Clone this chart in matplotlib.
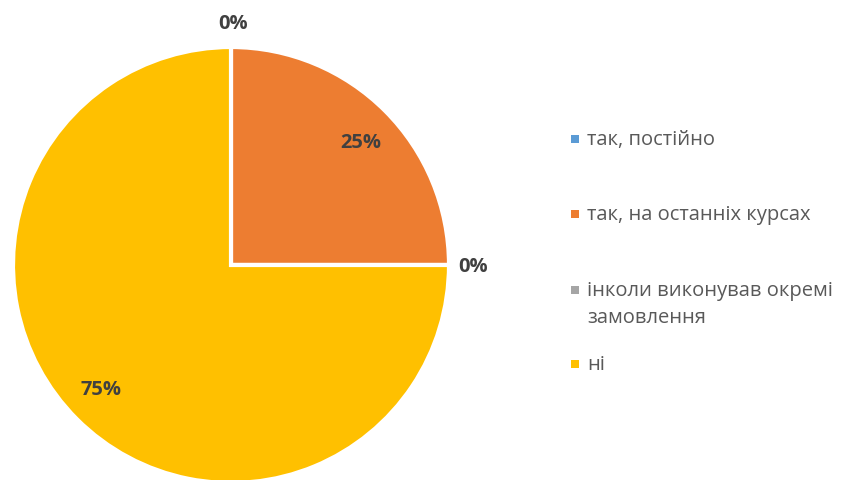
import matplotlib.pyplot as plt
from matplotlib.patches import Rectangle

labels = ["так, постійно", "так, на останніх курсах",
          "інколи виконував окремі\nзамовлення", "ні"]
values = [0, 25, 0, 75]
colors = ["#5B9BD5", "#ED7D31", "#A5A5A5", "#FFC000"]

# label positions in pixel coords (x, y from top) and legend row y
label_pos = [(233, 24), (361, 143), (473, 267), (101, 390)]
legend_rows = [140, 215, 291, 365]

W, H = 850, 481
plt.rcParams['font.family'] = ['Open Sans', 'DejaVu Sans']

fig = plt.figure(figsize=(W / 100, H / 100), dpi=100)
ax = fig.add_axes([0, 0, 1, 1])
ax.axis('off')

ax.pie(values, colors=colors, startangle=90, counterclock=False,
       center=(231, H - 266), radius=218,
       wedgeprops=dict(edgecolor="white", linewidth=3))
ax.set_xlim(0, W)
ax.set_ylim(0, H)
ax.set_aspect('equal')

total = sum(values)
for v, (x, y) in zip(values, label_pos):
    ax.text(x, H - y, f"{v / total * 100:.0f}%", ha="center", va="center",
            fontsize=14.5, fontweight="bold", color="#404040")

for lab, col, y in zip(labels, colors, legend_rows):
    ax.add_patch(Rectangle((571, H - y - 4), 8, 8, facecolor=col, edgecolor="none"))
    n_lines = lab.count("\n") + 1
    # first line centred on the marker, extra lines run downwards
    ax.text(587, H - y + 10, lab, ha="left", va="top",
            fontsize=14.5, color="#595959", linespacing=1.45)

fig.savefig("out.png", dpi=100)
